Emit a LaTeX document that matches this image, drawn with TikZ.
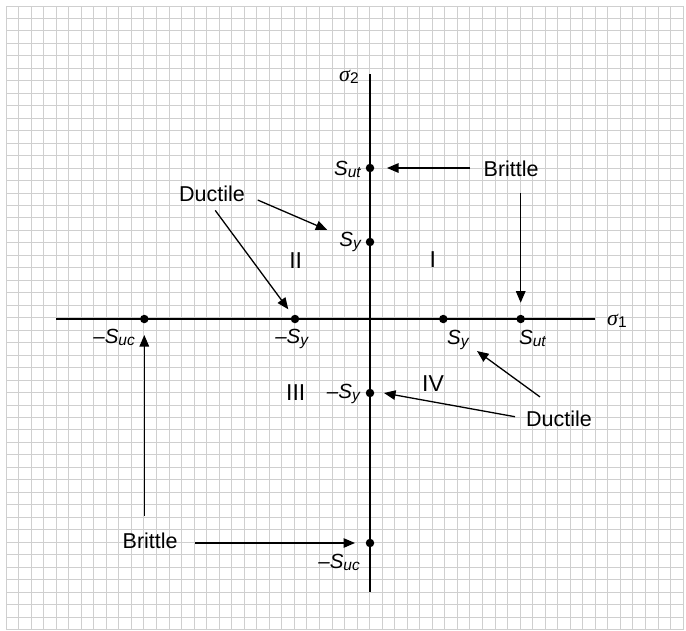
\documentclass[tikz,border=0pt]{standalone}
\usepackage{fontspec}
\setmainfont{Liberation Sans}
\newfontfamily\sigfont{Liberation Serif}
\usetikzlibrary{arrows.meta}
\tikzset{
 gridline/.style={draw=black!19, line width=1.3pt},
 axisline/.style={draw=black, line width=1.5pt},
 arr/.style={draw=black, line width=1.3pt, -{Triangle[length=11.5pt,width=9.5pt]}},
 dot/.style={circle, fill=black, inner sep=0pt, minimum size=8.5pt},
 word/.style={inner sep=0pt, font=\fontsize{21.5}{21.5}\selectfont},
 roman/.style={inner sep=0pt, font=\fontsize{23}{23}\selectfont},
 lab/.style={inner sep=0pt, font=\fontsize{20.5}{20.5}\selectfont\itshape},
 siglab/.style={inner sep=0pt, font=\fontsize{22}{22}\selectfont},
}
\newcommand\mysub[1]{\raisebox{-2pt}{\fontsize{15.5}{15.5}\selectfont #1}}
\begin{document}
\begin{tikzpicture}[x=1pt,y=-1pt]
\useasboundingbox (0,0) rectangle (686,630);
\fill[white] (0,0) rectangle (686,630);
% grid (snapped to pixel centres)
\foreach \i in {0,...,54} \draw[gridline] ({int(6+\i*12.54)+0.5},6) -- ({int(6+\i*12.54)+0.5},630);
\foreach \j in {0,...,50} \draw[gridline] (6,{int(6+\j*12.47)+0.5}) -- (683.7,{int(6+\j*12.47)+0.5});
% axes
\coordinate (xl) at (56,319);
\coordinate (xr) at (595,319);
\coordinate (yt) at (370,74);
\coordinate (yb) at (370,592);
\draw[axisline] (xl) -- (xr);
\draw[axisline] (yt) -- (yb);
\node[siglab, anchor=base west] (s1) at (607,325) {{\sigfont\itshape σ}\mysub{1}};
\node[siglab, anchor=base west] (s2) at (339,81.7) {{\sigfont\itshape σ}\mysub{2}};
% dots
\node[dot] (sut) at (370,168) {};
\node[dot] (sy) at (370,242) {};
\node[dot] (msy) at (370,393) {};
\node[dot] (msuc) at (370,543) {};
\node[dot] (xsy) at (443.3,319) {};
\node[dot] (xsut) at (520.7,319) {};
\node[dot] (xmsy) at (295,319) {};
\node[dot] (xmsuc) at (144.3,319) {};
% labels
\node[lab, anchor=base east] (lsut) at (361,175) {S\mysub{ut}};
\node[lab, anchor=base east] (lsy) at (361,246.5) {S\mysub{y}};
\node[lab, anchor=base east] (lmsy) at (360,398) {–S\mysub{y}};
\node[lab, anchor=base east] (lmsuc) at (360,568.3) {–S\mysub{uc}};
\node[lab, anchor=base east] (lxmsuc) at (135,343.3) {–S\mysub{uc}};
\node[lab, anchor=base east] (lxmsy) at (308.3,343.3) {–S\mysub{y}};
\node[lab, anchor=base west] (lxsy) at (447,344) {S\mysub{y}};
\node[lab, anchor=base west] (lxsut) at (519,344) {S\mysub{ut}};
% region numerals
\node[roman, anchor=base] (r1) at (432.7,267.7) {I};
\node[roman, anchor=base] (r2) at (295.7,268.3) {II};
\node[roman, anchor=base] (r3) at (295.7,400) {III};
\node[roman, anchor=base] (r4) at (433,391.7) {IV};
% words
\node[word, anchor=base west] (b1) at (483.5,176.5) {Brittle};
\node[word, anchor=base west] (b2) at (122.5,548.3) {Brittle};
\node[word, anchor=base west] (d1) at (179,201.7) {Ductile};
\node[word, anchor=base west] (d2) at (526,426.7) {Ductile};
\coordinate (b1s) at ([yshift=-16.5pt]b1.south);
\coordinate (b2n) at ([yshift=16.2pt]b2.north);
% arrows
\draw[arr] ([xshift=-13.5pt]b1.west |- sut) -- ([xshift=17pt]sut.center);
\draw[arr] (xsut |- b1s) -- ([yshift=16.3pt]xsut.center);
\draw[arr] ([xshift=12.6pt,yshift=-6pt]d1.east) -- ([xshift=-42.7pt,yshift=12pt]sy.center);
\draw[arr] ([xshift=3.2pt,yshift=-8.3pt]d1.south) -- ([xshift=-6.7pt,yshift=9.7pt]xmsy.center);
\draw[arr] ([xshift=14pt,yshift=14pt]d2.north west) -- ([xshift=33.7pt,yshift=-32pt]xsy.center);
\draw[arr] ([xshift=-11pt,yshift=2.3pt]d2.west) -- ([xshift=14pt]msy.center);
\draw[arr] ([xshift=17.5pt]b2.east |- msuc) -- ([xshift=-15pt]msuc.center);
\draw[arr] (xmsuc |- b2n) -- ([yshift=-16pt]xmsuc.center);
\end{tikzpicture}
\end{document}
